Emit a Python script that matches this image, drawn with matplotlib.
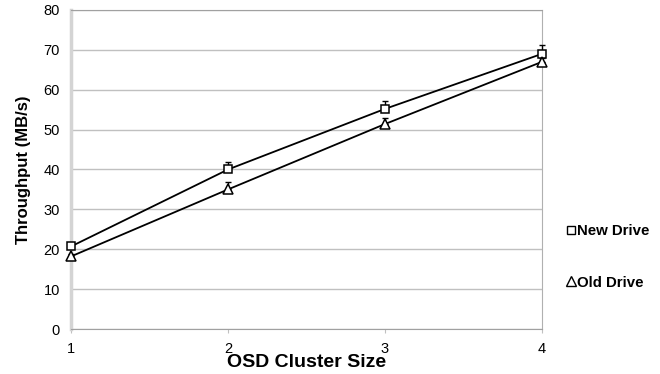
import matplotlib.pyplot as plt
from matplotlib.lines import Line2D

# cluster sizes and measured throughput (MB/s)
cluster_size = [1, 2, 3, 4]
new_drive = [20.7, 40.0, 55.2, 69.0]
new_err = [0.6, 1.8, 2.0, 2.2]
old_drive = [18.2, 35.0, 51.4, 67.0]
old_err = [0.6, 1.8, 1.6, 1.0]
y_ticks = [0, 10, 20, 30, 40, 50, 60, 70, 80]

plt.rcParams['font.family'] = ['Liberation Sans', 'DejaVu Sans']

fig = plt.figure(figsize=(6.6, 3.74), dpi=100)
ax = fig.add_axes([0.1076, 0.1203, 0.7136, 0.853])

# upper-only error bars, like the original spreadsheet
for ys, err in [(new_drive, new_err), (old_drive, old_err)]:
    eb = ax.errorbar(cluster_size, ys, yerr=[[0] * 4, err], fmt='none',
                     ecolor='black', elinewidth=1, capsize=2.5, capthick=1, zorder=3)
    for art in eb.lines[1] + eb.lines[2]:
        art.set_clip_on(False)

ax.plot(cluster_size, new_drive, color='black', lw=1.3, marker='s', ms=6.3,
        mfc='white', mec='black', mew=1.1, zorder=4, clip_on=False)
ax.plot(cluster_size, old_drive, color='black', lw=1.3, marker='^', ms=7.5,
        mfc='white', mec='black', mew=1.1, zorder=4, clip_on=False)

ax.set_xlim(1, 4)
ax.set_ylim(0, 80)
ax.set_xticks(cluster_size)
ax.set_yticks(y_ticks)
ax.grid(axis='y', color='#c0c0c0', lw=1)
ax.set_axisbelow(True)

ax.spines['left'].set_color('#d4d4d4')
ax.spines['left'].set_linewidth(2.5)
ax.spines['bottom'].set_color('#a0a0a0')
ax.spines['right'].set_color('#b0b0b0')
ax.spines['top'].set_color('#a0a0a0')
ax.tick_params(axis='y', length=0, labelsize=10.5, pad=8)
ax.tick_params(axis='x', length=3, color='#c0c0c0', labelsize=10.5, pad=6)

ax.set_xlabel('OSD Cluster Size', fontsize=14, fontweight='bold', labelpad=-1)
ax.set_ylabel('Throughput (MB/s)', fontsize=12, fontweight='bold', labelpad=9)

handles = [
    Line2D([], [], ls='none', marker='s', ms=5.5, mfc='white', mec='black', mew=1),
    Line2D([], [], ls='none', marker='^', ms=6.5, mfc='white', mec='black', mew=1),
]
leg = fig.legend(handles, ['New Drive', 'Old Drive'], loc='center left',
                 bbox_to_anchor=(0.838, 0.313), frameon=False,
                 handlelength=0.6, handletextpad=0.1, labelspacing=2.5,
                 prop={'weight': 'bold', 'size': 10.8})

fig.savefig('out.png', dpi=100)
